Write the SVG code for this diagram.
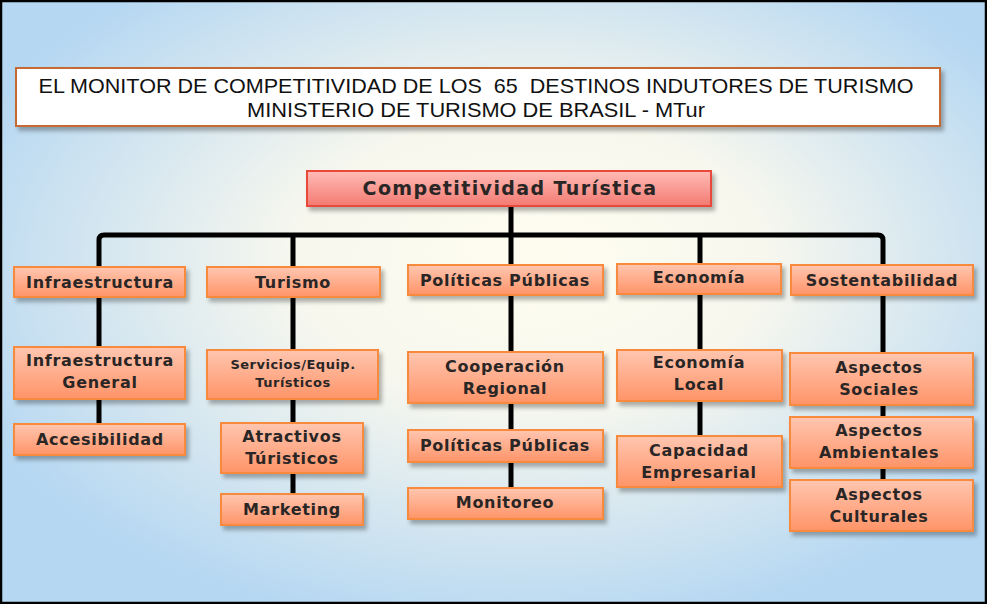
<svg xmlns="http://www.w3.org/2000/svg" width="987" height="604" viewBox="0 0 987 604">
<defs>
<radialGradient id="bg" cx="0.52" cy="0.45" r="0.6" fx="0.55" fy="0.42">
<stop offset="0" stop-color="#FFFDF0"/>
<stop offset="0.4" stop-color="#F7F7EE"/>
<stop offset="1" stop-color="#B5D7F2"/>
</radialGradient>
<linearGradient id="og" x1="0" y1="0" x2="0" y2="1">
<stop offset="0" stop-color="#FFC6B0"/>
<stop offset="1" stop-color="#FF9468"/>
</linearGradient>
<linearGradient id="rg" x1="0" y1="0" x2="0" y2="1">
<stop offset="0" stop-color="#FFBCB6"/>
<stop offset="1" stop-color="#F27A72"/>
</linearGradient>
<filter id="sh" x="-10%" y="-20%" width="125%" height="160%">
<feDropShadow dx="3" dy="4" stdDeviation="2" flood-color="#000" flood-opacity="0.3"/>
</filter>
</defs>
<style>
.b{fill:url(#og);stroke:#F78A3E;stroke-width:2;filter:url(#sh)}
.m{fill:url(#rg);stroke:#E9493B;stroke-width:2;filter:url(#sh)}
.t{font-family:"DejaVu Sans",Verdana,sans-serif;font-weight:bold;font-size:16px;letter-spacing:0.7px;fill:#2A2626;text-anchor:middle}
.s{font-size:13px;letter-spacing:0.5px}
.h{font-family:"Liberation Sans Narrow","Liberation Sans",Arial,sans-serif;font-size:21px;fill:#111;text-anchor:middle;white-space:pre}
.c{fill:none;stroke:#000;stroke-width:5}
</style>
<rect x="0" y="0" width="987" height="604" fill="url(#bg)"/>
<rect x="1" y="1" width="985" height="602" fill="none" stroke="#000" stroke-width="2.5"/>

<g id="title">
<rect x="16" y="68" width="924" height="58" fill="#fff" stroke="#C46A33" stroke-width="2" filter="url(#sh)"/>
<text class="h" x="476" y="93" textLength="875" lengthAdjust="spacingAndGlyphs" xml:space="preserve">EL MONITOR DE COMPETITIVIDAD DE LOS  65  DESTINOS INDUTORES DE TURISMO</text>
<text class="h" x="476" y="117" textLength="458" lengthAdjust="spacingAndGlyphs">MINISTERIO DE TURISMO DE BRASIL - MTur</text>
</g>

<g id="connectors">
<path class="c" d="M511 206 V488"/>
<path class="c" d="M99 424 V240 Q99 235 104 235 H878 Q883 235 883 240 V480"/>
<path class="c" d="M293 235 V494"/>
<path class="c" d="M700 235 V437"/>
</g>

<g id="n-comp"><rect class="m" x="307" y="171" width="404" height="35"/><text class="t" x="510" y="195" style="font-size:19px;letter-spacing:1.4px">Competitividad Turística</text></g>

<g id="n-infra"><rect class="b" x="14" y="267" width="171" height="30"/><text class="t" x="100" y="288">Infraestructura</text></g>
<g id="n-turismo"><rect class="b" x="207" y="267" width="173" height="30"/><text class="t" x="293" y="288">Turismo</text></g>
<g id="n-pol"><rect class="b" x="408" y="265" width="195" height="30"/><text class="t" x="505" y="286">Políticas Públicas</text></g>
<g id="n-eco"><rect class="b" x="617" y="264" width="164" height="30"/><text class="t" x="699" y="283">Economía</text></g>
<g id="n-sost"><rect class="b" x="791" y="265" width="182" height="30"/><text class="t" x="882" y="286">Sostentabilidad</text></g>

<g id="n-infgen"><rect class="b" x="14" y="347" width="171" height="52"/><text class="t" x="100" y="366">Infraestructura</text><text class="t" x="100" y="388">General</text></g>
<g id="n-acc"><rect class="b" x="14" y="424" width="171" height="31"/><text class="t" x="100" y="445">Accesibilidad</text></g>

<g id="n-serv"><rect class="b" x="207" y="350" width="171" height="49"/><text class="t s" x="293" y="369">Servicios/Equip.</text><text class="t s" x="293" y="387">Turísticos</text></g>
<g id="n-atr"><rect class="b" x="221" y="423" width="142" height="50"/><text class="t" x="292" y="442">Atractivos</text><text class="t" x="292" y="464">Túristicos</text></g>
<g id="n-mkt"><rect class="b" x="221" y="494" width="142" height="31"/><text class="t" x="292" y="515">Marketing</text></g>

<g id="n-coop"><rect class="b" x="408" y="352" width="195" height="51"/><text class="t" x="505" y="372">Cooperación</text><text class="t" x="505" y="394">Regional</text></g>
<g id="n-pol2"><rect class="b" x="408" y="430" width="195" height="32"/><text class="t" x="505" y="451">Políticas Públicas</text></g>
<g id="n-mon"><rect class="b" x="408" y="488" width="195" height="31"/><text class="t" x="505" y="508">Monitoreo</text></g>

<g id="n-ecoloc"><rect class="b" x="617" y="350" width="165" height="51"/><text class="t" x="699" y="368">Economía</text><text class="t" x="699" y="390">Local</text></g>
<g id="n-cap"><rect class="b" x="617" y="436" width="165" height="51"/><text class="t" x="699" y="456">Capacidad</text><text class="t" x="699" y="478">Empresarial</text></g>

<g id="n-soc"><rect class="b" x="790" y="353" width="183" height="52"/><text class="t" x="879" y="373">Aspectos</text><text class="t" x="879" y="395">Sociales</text></g>
<g id="n-amb"><rect class="b" x="790" y="417" width="183" height="51"/><text class="t" x="879" y="436">Aspectos</text><text class="t" x="879" y="458">Ambientales</text></g>
<g id="n-cul"><rect class="b" x="790" y="480" width="183" height="51"/><text class="t" x="879" y="500">Aspectos</text><text class="t" x="879" y="522">Culturales</text></g>
</svg>
